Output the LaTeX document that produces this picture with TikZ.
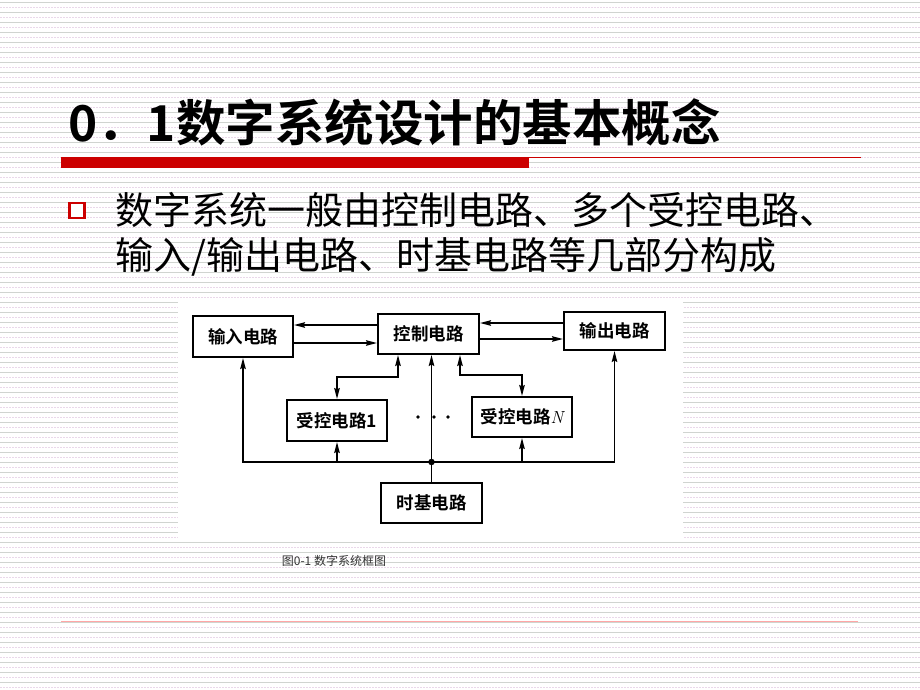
\documentclass[tikz,border=0pt]{standalone}
\usepackage{fontspec}
\newfontfamily\cjk{Noto Sans CJK SC}[BoldFont={* Bold}]
\usetikzlibrary{arrows.meta}
\definecolor{ttlred}{HTML}{CC0000}
\definecolor{stripe}{HTML}{D0D4D0}
\definecolor{stripeb}{HTML}{EAD8EA}
\begin{document}
\begin{tikzpicture}[x=1pt,y=-1pt,
  box/.style={draw=black, line width=2pt, fill=white, minimum width=100pt, minimum height=40pt, inner sep=0pt, font=\cjk\bfseries\fontsize{17.5}{20}\selectfont},
  conn/.style={line width=1.6pt},
  ar/.style={conn,-{Stealth[length=11pt,width=5.5pt,inset=1.5pt]}},
  bar/.style={conn,{Stealth[length=11pt,width=5.5pt,inset=1.5pt]}-{Stealth[length=11pt,width=5.5pt,inset=1.5pt]}},
  dotm/.style={fill=black, circle, inner sep=0pt, minimum size=3.8pt}
]
\useasboundingbox (0,0) rectangle (920,690);
\fill[white] (0,0) rectangle (920,690);
% background stripes
\foreach \k in {0,...,68} {
  \draw[stripe, line width=0.8pt] (0,{2.5+10*\k}) -- (920,{2.5+10*\k});
  \draw[stripeb, line width=0.7pt, dash pattern=on 1.5pt off 1.5pt] (0,{7.5+10*\k}) -- (920,{7.5+10*\k});
}
% title
\node[anchor=base west, inner sep=0pt, font=\cjk\bfseries\fontsize{49.5}{55}\selectfont] (title) at (68,141) {0．1数字系统设计的基本概念};
\fill[ttlred] (61,157) rectangle (529,168);
\draw[ttlred, line width=1.2pt] (529,157.6) -- (861,157.6);
% bullet text
\node[draw=ttlred, line width=2.2pt, fill=white, minimum size=15pt, inner sep=0pt] (bul) at (77,210.5) {};
\node[anchor=base west, inner sep=0pt, font=\cjk\fontsize{38}{45}\selectfont] (l1) at (115,224) {数字系统一般由控制电路、多个受控电路、};
\node[anchor=base west, inner sep=0pt, font=\cjk\fontsize{38}{45}\selectfont] (l2) at (115,269) {输入/输出电路、时基电路等几部分构成};
% diagram background
\fill[white] (178,299) rectangle (683,538);
% boxes
\node[box, minimum height=41pt] (in) at (243,336.5) {输入电路};
\node[box, minimum width=101pt] (ctl) at (428.5,334) {控制电路};
\node[box, minimum width=101pt, minimum height=38pt] (out) at (614.5,331) {输出电路};
\node[box, minimum height=41pt] (s1) at (337,420.5) {受控电路1};
\node[box] (sN) at (522,417) {受控电路{\rmfamily\mdseries\itshape N}};
\node[box, minimum width=101pt] (tb) at (431.5,503) {时基电路};
% ctl <-> in
\draw[ar] (ctl.west |- 0,325) -- (in.east |- 0,325);
\draw[ar] (in.east |- 0,343) -- (ctl.west |- 0,343);
% ctl <-> out
\draw[ar] (out.west |- 0,323) -- (ctl.east |- 0,323);
\draw[ar] (ctl.east |- 0,339) -- (out.west |- 0,339);
% ctl <-> controlled circuits
\draw[bar] (ctl.south -| 398,0) -- (398,377) -- (s1.north |- 0,377) -- (s1.north);
\draw[bar] (ctl.south -| 460,0) -- (460,375) -- (sN.north |- 0,375) -- (sN.north);
% time base bus
\coordinate (j) at (tb.north |- 0,462);
\draw[ar] (tb.north) -- (tb.north |- ctl.south);
\draw[ar] (j) -- (in.south |- j) -- (in.south);
\draw[ar] (j) -- (out.south |- j) -- (out.south);
\draw[ar] (s1.south |- j) -- (s1.south);
\draw[ar] (sN.south |- j) -- (sN.south);
\node[dotm, minimum size=6.5pt] (jd) at (j) {};
% ellipsis dots
\node[dotm] (d1) at (418,417) {};
\node[dotm] (d2) at (434,417) {};
\node[dotm] (d3) at (448,417) {};
% caption
\node[inner sep=0pt, text=black!80, font=\cjk\fontsize{12}{14}\selectfont] (cap) at (334,561) {图0-1 数字系统框图};
% bottom line
\draw[red!35, line width=0.9pt] (61,621) -- (858,621);
\end{tikzpicture}
\end{document}
